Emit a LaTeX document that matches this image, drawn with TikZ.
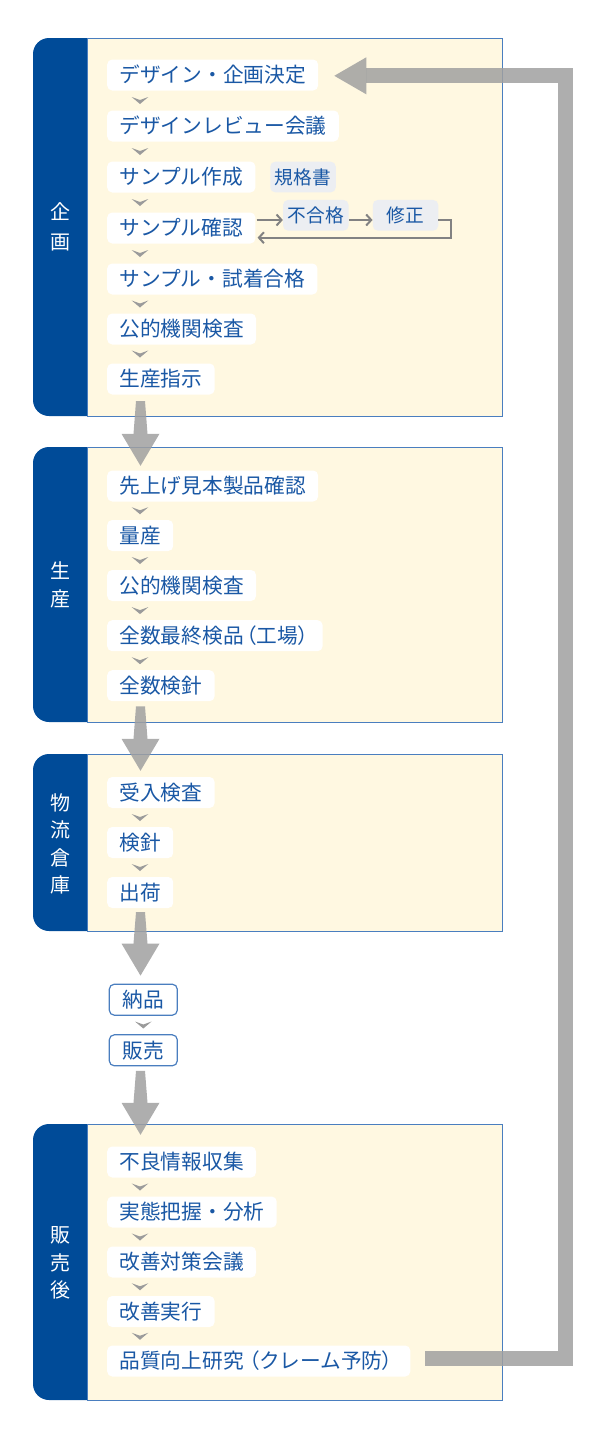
\documentclass[tikz,border=0pt]{standalone}
\usepackage{fontspec}
\setmainfont{Noto Sans CJK JP}
\newfontfamily\jpp[RawFeature=+palt]{Noto Sans CJK JP}
\usetikzlibrary{arrows.meta,calc}
\definecolor{panelblue}{RGB}{0,75,152}
\definecolor{cream}{RGB}{255,248,225}
\definecolor{edgeblue}{RGB}{74,126,191}
\definecolor{txtblue}{RGB}{26,88,165}
\definecolor{tagfill}{RGB}{236,238,242}
\definecolor{chevgray}{RGB}{155,155,155}
\definecolor{loopgray}{RGB}{130,130,130}
\definecolor{biggray}{RGB}{160,160,160}
\newcommand\sectframe[2]{%
  \fill[panel, rounded corners=16pt] (33,#1) rectangle (120,#2);
  \draw[sectbox] (87,#1) rectangle (502,#2);}
\newcommand\chev[3]{%
  \fill[chevf] ($(#3|-#1.south)!0.5!(#3|-#2.north)$) +(-8.3,-3.5) -- +(0,-0.5) -- +(8.3,-3.5) -- +(0,3.5) -- cycle;}
\newcommand\bigarr[4]{%
  \fill[bigarrow] let \p1=($(cx|-#1.south)+(0,#3)$), \p2=($(cx|-#2.north)+(0,-#4)$) in
  (\x1-4.5pt,\y1) -- (\x1+4.5pt,\y1) -- (\x1+7pt,\y2+32pt) -- (\x1+19pt,\y2+32pt) -- (\x2,\y2)
  -- (\x1-19pt,\y2+32pt) -- (\x1-7pt,\y2+32pt) -- cycle;}
\begin{document}
\begin{tikzpicture}[x=1pt,y=-1pt,
  stepbox/.style={fill=white, rounded corners=5pt, text=txtblue, font=\fontsize{20.7}{24}\selectfont,
    inner xsep=12.3pt, inner ysep=0pt, minimum height=31pt, anchor=west},
  outbox/.style={stepbox, draw=edgeblue, line width=1.2pt, minimum width=68pt, inner xsep=0pt, anchor=center},
  tagbox/.style={fill=tagfill, rounded corners=5pt, text=txtblue, font=\fontsize{18.7}{22}\selectfont,
    inner xsep=0pt, inner ysep=0pt, minimum height=30.7pt, minimum width=65.5pt},
  sidelabel/.style={text=white, align=center, inner sep=0pt},
  sectbox/.style={fill=cream, draw=edgeblue, line width=1pt},
  panel/.style={fill=panelblue},
  chevf/.style={fill=chevgray},
  bigarrow/.style={fill=biggray, fill opacity=0.85},
  fbline/.style={draw=biggray, draw opacity=0.85, line width=15pt, line join=miter},
  loopline/.style={draw=loopgray, line width=2pt, line join=miter, -{Straight Barb[length=5pt,width=11pt]}},
]
\useasboundingbox (0,0) rectangle (605,1432);
\coordinate (cx) at (140.5,0);
\coordinate (cc) at (140,0);
\coordinate (fbx) at (565.5,0);

% sections
\sectframe{38}{416}
\sectframe{447}{722}
\sectframe{754}{931}
\sectframe{1124}{1400}

\node[sidelabel, font=\fontsize{20}{30}\selectfont] (L1) at (60,227) {企\\画};
\node[sidelabel, font=\fontsize{20}{28}\selectfont] (L2) at (60,585) {生\\産};
\node[sidelabel, font=\fontsize{20}{27.5}\selectfont] (L3) at (60,844) {物\\流\\倉\\庫};
\node[sidelabel, font=\fontsize{20}{27.5}\selectfont] (L4) at (60,1263) {販\\売\\後};

% planning
\node[stepbox] (s1) at (107,75) {デザイン・企画決定};
\node[stepbox] (s2) at (107,126) {デザインレビュー会議};
\node[stepbox] (s3) at (107,177) {サンプル作成};
\node[stepbox] (s4) at (107,228) {サンプル確認};
\node[stepbox] (s5) at (107,279) {サンプル・試着合格};
\node[stepbox] (s6) at (107,329) {公的機関検査};
\node[stepbox] (s7) at (107,379) {生産指示};

\node[tagbox] (spec) at (303,177) {規格書};
\node[tagbox] (ng) at (315.8,215.3) {不合格};
\node[tagbox] (fix) at (405.5,215.3) {修正};

% production
\node[stepbox] (p1) at (107,486) {先上げ見本製品確認};
\node[stepbox] (p2) at (107,535.5) {量産};
\node[stepbox] (p3) at (107,585.5) {公的機関検査};
\node[stepbox] (p4) at (107,635.7) {全数最終検品\kern2.5pt{\jpp （}工場{\jpp ）}\kern2pt};
\node[stepbox] (p5) at (107,685.7) {全数検針};

% warehouse
\node[stepbox] (w1) at (107,792.5) {受入検査};
\node[stepbox] (w2) at (107,842.5) {検針};
\node[stepbox] (w3) at (107,892.5) {出荷};

% delivery / sales
\node[outbox] (d1) at (143.3,999.7) {納品};
\node[outbox] (d2) at (143.3,1050.3) {販売};

% after sales
\node[stepbox] (a1) at (107,1162) {不良情報収集};
\node[stepbox] (a2) at (107,1212) {実態把握・分析};
\node[stepbox] (a3) at (107,1262) {改善対策会議};
\node[stepbox] (a4) at (107,1311.5) {改善実行};
\node[stepbox] (a5) at (107,1361) {品質向上研究\kern5pt{\jpp （}クレーム予防{\jpp ）}\kern5pt};

% chevrons
\chev{s1}{s2}{cc}\chev{s2}{s3}{cc}\chev{s3}{s4}{cc}\chev{s4}{s5}{cc}\chev{s5}{s6}{cc}\chev{s6}{s7}{cc}
\chev{p1}{p2}{cc}\chev{p2}{p3}{cc}\chev{p3}{p4}{cc}\chev{p4}{p5}{cc}
\chev{w1}{w2}{cc}\chev{w2}{w3}{cc}
\chev{d1}{d2}{d1}
\chev{a1}{a2}{cc}\chev{a2}{a3}{cc}\chev{a3}{a4}{cc}\chev{a4}{a5}{cc}

% rejection loop
\coordinate (r1) at ($(s4.east)+(1,-8)$);
\coordinate (r2) at ($(s4.east)+(2,9.7)$);
\draw[loopline] (r1) -- (ng.west|-r1);
\draw[loopline] (ng.east|-r1) -- (fix.west|-r1);
\draw[loopline] (fix.east|-r1) -- ++(13,0) |- (r2);

% big arrows
\bigarr{s7}{p1}{6.5}{4.5}
\bigarr{p5}{w1}{5}{6}
\bigarr{w3}{d1}{4}{8}
\bigarr{d2}{a1}{4.5}{11.5}

% feedback
\coordinate (fb0) at ($(a5.east)+(15,-2.3)$);
\coordinate (fb1) at ($(s1.east)+(16,0.8)$);
\draw[fbline] (fb0) -- (fbx|-fb0) -- (fbx|-fb1) -- ($(fb1)+(32,0)$);
\fill[bigarrow] ($(fb1)+(32,-18.5)$) -- (fb1) -- ($(fb1)+(32,18.5)$) -- cycle;
\end{tikzpicture}
\end{document}
